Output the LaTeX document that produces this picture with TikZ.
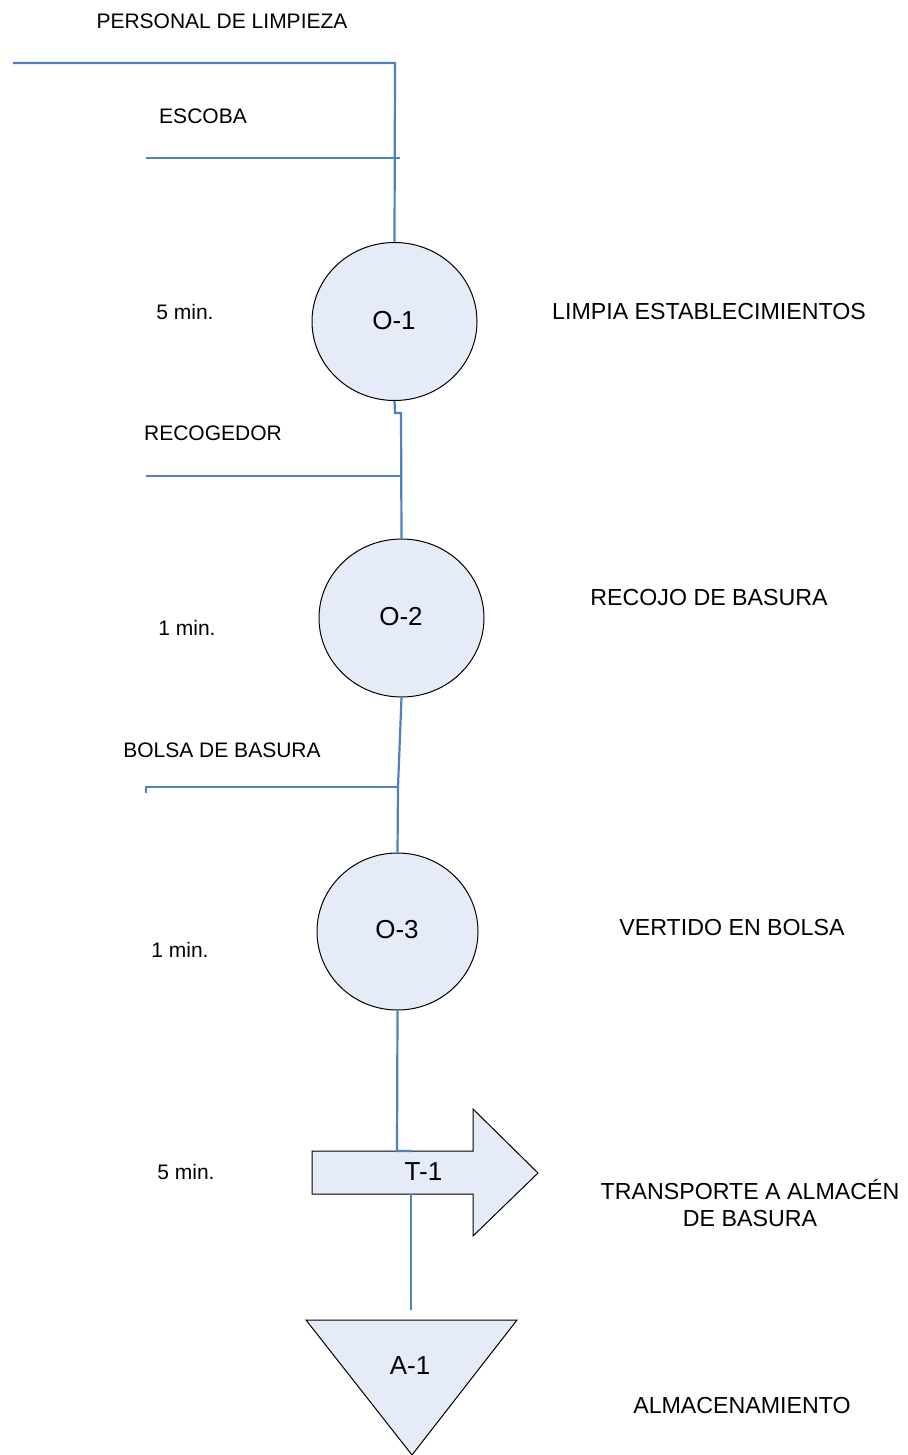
\documentclass[tikz,border=0pt]{standalone}
\usepackage{fontspec}
\setmainfont{Liberation Sans}
\usetikzlibrary{shapes.geometric}
\definecolor{lineblue}{RGB}{79,129,189}
\definecolor{shapefill}{RGB}{230,236,247}
\begin{document}
\begin{tikzpicture}[x=0.5pt,y=-0.5pt,
  flow/.style={draw=lineblue,line width=1.1pt},
  opcircle/.style={ellipse,draw=black,line width=0.5pt,fill=shapefill,minimum width=82.5pt,minimum height=79pt,inner sep=0pt},
  symbolshape/.style={draw=black,line width=0.5pt,fill=shapefill},
  lbl/.style={inner sep=0pt,font=\fontsize{10.5}{13}\selectfont,align=center},
  rlbl/.style={inner sep=0pt,font=\fontsize{11.6}{13.2}\selectfont,align=center},
  biglbl/.style={inner sep=0pt,font=\fontsize{13}{15}\selectfont}]
\useasboundingbox (0,0) rectangle (908,1455);
% operation circles
\node[opcircle] (o1) at (394.5,321.5) {};
\node[opcircle] (o2) at (401.5,618) {};
\node[opcircle,minimum width=80.5pt,minimum height=78.5pt] (o3) at (397.5,931.5) {};
% transport arrow
\draw[symbolshape] (312,1151) -- (473,1151) -- (473,1109) -- (538,1173) -- (473,1236) -- (473,1194) -- (312,1194) -- cycle;
% storage triangle
\draw[symbolshape] (306,1320) -- (517,1320) -- (412,1455) -- cycle;
% coordinates
\coordinate (pstart) at (13,63);
\coordinate (pcorner) at (395,63);
\coordinate (escL) at (146,158);
\coordinate (escR) at (400,158);
\coordinate (j1) at (395,413);
\coordinate (j2) at (401,413);
\coordinate (recL) at (146,476);
\coordinate (recR) at (401,476);
\coordinate (bolT) at (146,793);
\coordinate (bolL) at (146,787);
\coordinate (bolR) at (398,787);
\coordinate (t1a) at (397,1151);
\coordinate (t1b) at (412,1151);
\coordinate (t1bot) at (411,1194);
\coordinate (a1top) at (411,1310);
% connectors
\draw[flow] (pstart) -- (pcorner) -- (o1.north);
\draw[flow] (escL) -- (escR);
\draw[flow] (o1.south) -- (j1) -- (j2) -- (o2.north);
\draw[flow] (recL) -- (recR);
\draw[flow] (o2.south) -- (bolR) -- (o3.north);
\draw[flow] (bolT) -- (bolL) -- (bolR);
\draw[flow] (o3.south) -- (t1a) -- (t1b);
\draw[flow] (t1bot) -- (a1top);
% symbol labels
\node[biglbl] (o1l) at (394,321) {O-1};
\node[biglbl] (o2l) at (401,617) {O-2};
\node[biglbl] (o3l) at (397,930) {O-3};
\node[biglbl] (t1l) at (423.5,1172) {T-1};
\node[biglbl] (a1l) at (410,1366) {A-1};
% texts
\node[lbl] (tp) at (222,21) {PERSONAL DE LIMPIEZA};
\node[lbl] (tesc) at (203,116) {ESCOBA};
\node[lbl] (tm1) at (185,312) {5 min.};
\node[rlbl] (tr1) at (709,312) {LIMPIA ESTABLECIMIENTOS};
\node[lbl] (trec) at (213,433) {RECOGEDOR};
\node[rlbl] (tr2) at (709,598) {RECOJO DE BASURA};
\node[lbl] (tm2) at (187,628) {1 min.};
\node[lbl] (tbol) at (222,750) {BOLSA DE BASURA};
\node[rlbl] (tr3) at (732,928) {VERTIDO EN BOLSA};
\node[lbl] (tm3) at (180,950) {1 min.};
\node[lbl] (tm4) at (186,1172) {5 min.};
\node[rlbl] (tr4) at (750,1203) {TRANSPORTE A ALMACÉN\\DE BASURA};
\node[rlbl] (tr5) at (742,1405) {ALMACENAMIENTO};
\end{tikzpicture}
\end{document}
